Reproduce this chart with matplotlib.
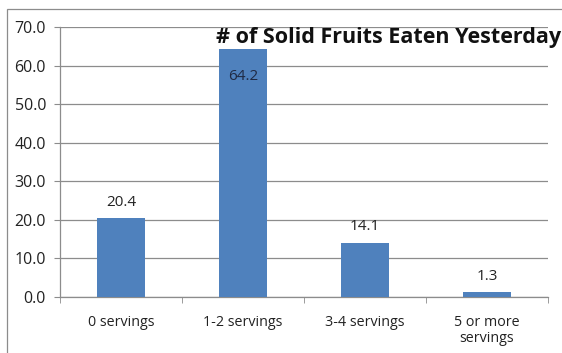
import matplotlib.pyplot as plt
import matplotlib.patches as patches
import numpy as np

categories = ['0 servings', '1-2 servings', '3-4 servings', '5 or more\nservings']
values = [20.4, 64.2, 14.1, 1.3]
yticks = [0, 10, 20, 30, 40, 50, 60, 70]

plt.rcParams['font.family'] = ['Open Sans', 'DejaVu Sans']

fig = plt.figure(figsize=(5.62, 3.53), dpi=100, facecolor='w')
ax = fig.add_axes([60/562, 1-297/353, (548-60)/562, (297-27)/353])

# outer chart border (cropped on right/bottom)
fig.patches.append(patches.Rectangle((7/562, -0.1), 1.2, 1-9/353+0.1, transform=fig.transFigure,
                                     fill=False, edgecolor='#8c8c8c', linewidth=0.9))

x = np.arange(len(categories))
bars = ax.bar(x, values, width=0.4, color='#4f81bd', zorder=3)

ax.set_xlim(-0.5, len(categories) - 0.5)
ax.set_ylim(0, 70)
ax.set_yticks(yticks)
ax.set_yticklabels(['%.1f' % v for v in yticks], fontsize=11.5, color='#222222')
ax.yaxis.grid(True, color='#8c8c8c', linewidth=0.9, zorder=0)

ax.set_xticks(x)
ax.set_xticklabels(categories, fontsize=10.3, color='#222222', linespacing=1.1, va='top')
ax.tick_params(axis='x', length=0, pad=13)
ax.tick_params(axis='y', length=4, color='#8c8c8c', pad=6)
# category boundary ticks
ax.set_xticks(np.arange(len(categories) + 1) - 0.5, minor=True)
ax.tick_params(axis='x', which='minor', length=4, color='#8c8c8c', direction='out')

for s in ['top', 'right']:
    ax.spines[s].set_visible(False)
for s in ['left', 'bottom']:
    ax.spines[s].set_color('#8c8c8c')
    ax.spines[s].set_linewidth(0.9)

for i, v in enumerate(values):
    if v > 60:
        ax.annotate('%.1f' % v, (x[i], v), xytext=(0, -25), textcoords='offset points',
                    ha='center', va='bottom', fontsize=11, color='#1f2a44', zorder=4)
    else:
        ax.annotate('%.1f' % v, (x[i], v), xytext=(0, 6), textcoords='offset points',
                    ha='center', va='bottom', fontsize=11, color='#222222', zorder=4)

fig.text(561/562, 1-37/353, '# of Solid Fruits Eaten Yesterday', ha='right', va='center',
         fontsize=15.5, fontweight='bold', color='#111111')

plt.savefig('out.png', dpi=100)
